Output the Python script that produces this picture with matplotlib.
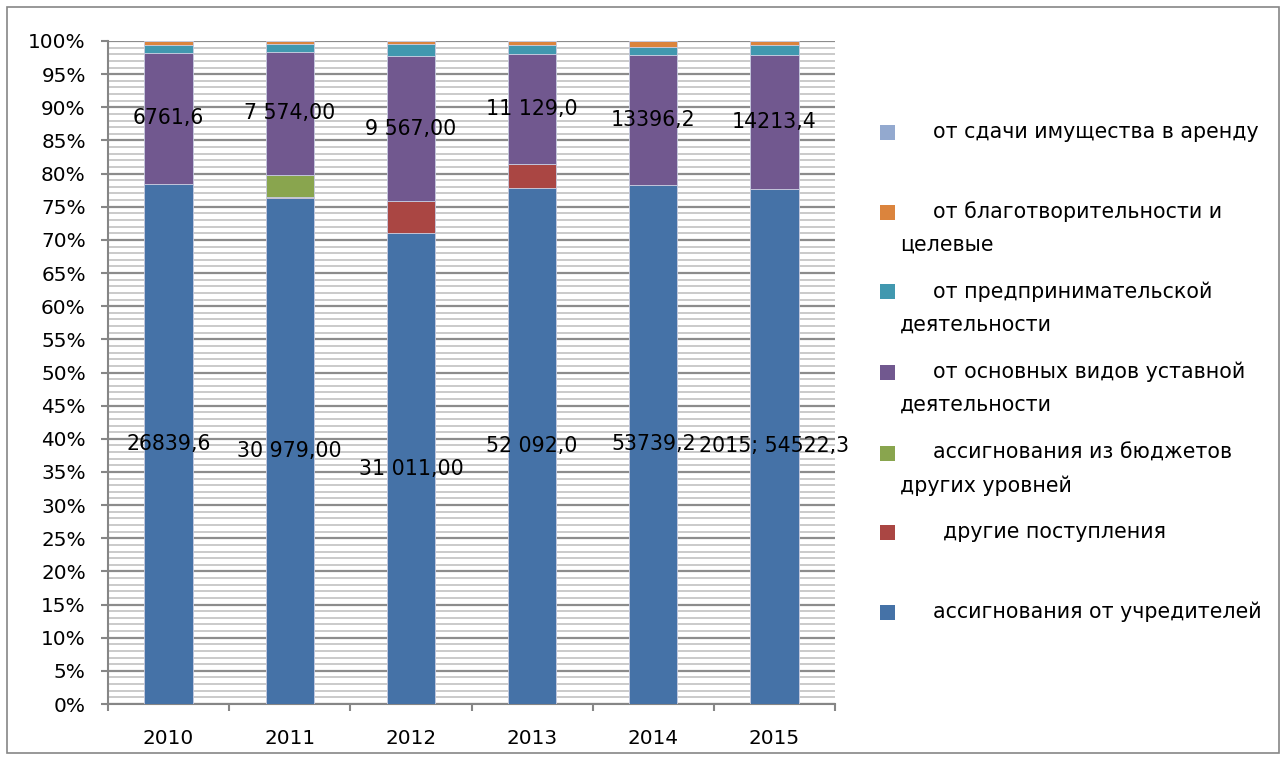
import matplotlib
matplotlib.use("Agg")
import matplotlib.pyplot as plt
import numpy as np
from matplotlib.patches import Rectangle
from matplotlib.ticker import MultipleLocator, FuncFormatter

plt.rcParams['font.family'] = ['DejaVu Sans']

years = ["2010", "2011", "2012", "2013", "2014", "2015"]

# values, thousand roubles (stacking order bottom -> top)
founders = [26839.6, 30979.0, 31011.0, 52092.0, 53739.2, 54522.3]
other_income = [0, 60, 2094, 2407, 0, 0]
budget_other = [0, 1336, 0, 0, 0, 0]
main_activity = [6761.6, 7574.0, 9567.0, 11129.0, 13396.2, 14213.4]
business = [410, 486, 829, 903, 857, 1050]
charity = [188, 162, 175, 435, 617, 385]
rent = [0, 0, 0, 0, 0, 0]

founders_labels = ["26839,6", "30 979,00", "31 011,00", "52 092,0", "53739,2", "2015; 54522,3"]
main_labels = ["6761,6", "7 574,00", "9 567,00", "11 129,0", "13396,2", "14213,4"]

series = [
    ("ассигнования от учредителей", founders, "#4572A7"),
    ("другие поступления", other_income, "#AA4643"),
    ("ассигнования из бюджетов других уровней", budget_other, "#89A54E"),
    ("от основных видов уставной деятельности", main_activity, "#71588F"),
    ("от предпринимательской деятельности", business, "#4198AF"),
    ("от благотворительности и целевые", charity, "#DB843D"),
    ("от сдачи имущества в аренду", rent, "#93A9CF"),
]

data = np.array([s[1] for s in series], dtype=float)
totals = data.sum(axis=0)
pct = data / totals * 100

fig = plt.figure(figsize=(12.85, 7.6), dpi=100)
ax = fig.add_axes([108/1285, 1 - 704/760, (835-108)/1285, (704-41)/760])

x = np.arange(len(years))
bottom = np.zeros(len(years))
containers = []
for (name, vals, col), p in zip(series, pct):
    c = ax.bar(x, p, width=0.4, bottom=bottom, color=col, edgecolor="#c8cce0",
               linewidth=0.6, zorder=3)
    containers.append(c)
    bottom += p

FS = 14.8
ax.bar_label(containers[0], labels=founders_labels, label_type="center", fontsize=FS, color="black")
ax.bar_label(containers[3], labels=main_labels, label_type="center", fontsize=FS, color="black")

ax.set_xlim(-0.5, len(years) - 0.5)
ax.set_ylim(0, 100)
ax.yaxis.set_major_locator(MultipleLocator(5))
ax.yaxis.set_minor_locator(MultipleLocator(1))
ax.yaxis.set_major_formatter(FuncFormatter(lambda v, _: f"{int(round(v))}%"))
ax.set_xticks(x)
ax.set_xticklabels(years)
ax.set_xticks(np.arange(-0.5, len(years)), minor=True)

ax.grid(axis="y", which="minor", color="#cacaca", linewidth=1.4, zorder=0)
ax.grid(axis="y", which="major", color="#8c8c8c", linewidth=1.6, zorder=0)
ax.set_axisbelow(True)

for s in ("top", "right"):
    ax.spines[s].set_visible(False)
for s in ("left", "bottom"):
    ax.spines[s].set_color("#868686")
    ax.spines[s].set_linewidth(1.5)

ax.tick_params(axis="y", which="major", length=5, width=1.5, color="#868686", pad=11, labelsize=14.4)
ax.tick_params(axis="y", which="minor", length=0)
ax.tick_params(axis="x", which="major", length=0, pad=18, labelsize=14.4)
ax.tick_params(axis="x", which="minor", length=5, width=1.5, color="#868686")

# legend (drawn manually to mimic wrapped entries)
W, H = 1285, 760
legend_items = [
    ("от сдачи имущества в аренду", None, "#93A9CF", 132, 933),
    ("от благотворительности и", "целевые", "#DB843D", 212, 933),
    ("от предпринимательской", "деятельности", "#4198AF", 292, 933),
    ("от основных видов уставной", "деятельности", "#71588F", 372, 933),
    ("ассигнования из бюджетов", "других уровней", "#89A54E", 453, 933),
    ("другие поступления", None, "#AA4643", 532, 943),
    ("ассигнования от учредителей", None, "#4572A7", 612, 933),
]
for line1, line2, col, yc, xt in legend_items:
    fig.patches.append(Rectangle((880/W, 1 - (yc + 7.5)/H), 15/W, 15/H,
                                 transform=fig.transFigure, facecolor=col, edgecolor="none"))
    fig.text(xt/W, 1 - yc/H, line1, fontsize=FS, va="center", ha="left")
    if line2:
        fig.text(900/W, 1 - (yc + 33)/H, line2, fontsize=FS, va="center", ha="left")

# outer chart border
fig.patches.append(Rectangle((7/W, 7/H), (1279-7)/W, (753-7)/H, transform=fig.transFigure,
                             facecolor="none", edgecolor="#868686", linewidth=1.2))

fig.savefig("out.png", dpi=100)
